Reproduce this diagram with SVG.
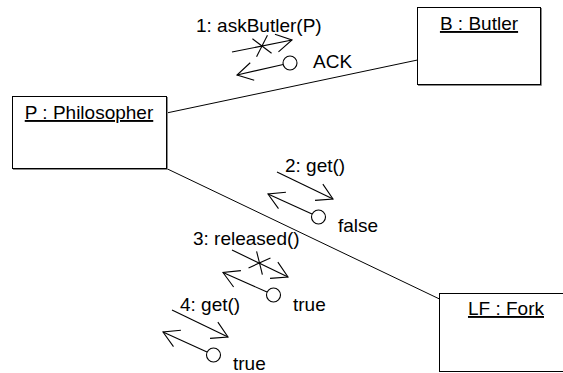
<svg xmlns="http://www.w3.org/2000/svg" width="563" height="373" viewBox="0 0 563 373">
  <style>
    text { font-family: "Liberation Sans", Arial, sans-serif; font-size: 19px; fill: #000; }
    .name { text-anchor: middle; text-decoration: underline; }
    .box { fill: #fff; stroke: #000; stroke-width: 1; }
    .shade { fill: none; stroke: #8a8a8a; stroke-width: 1; }
    .link { fill: none; stroke: #000; stroke-width: 1; }
    .msg { fill: none; stroke: #000; stroke-width: 1.1; marker-end: url(#open); }
    .ret { fill: #fff; stroke: #000; stroke-width: 1.1; }
    .cross { stroke: #000; stroke-width: 1.1; }
  </style>
  <defs>
    <!-- open V arrowhead for message arrows -->
    <marker id="open" markerUnits="userSpaceOnUse" viewBox="-20 -11 22 22" refX="0" refY="0"
            markerWidth="22" markerHeight="22" orient="auto" overflow="visible">
      <path d="M-15.6,-9 L0,0 L-15.6,9" fill="none" stroke="#000" stroke-width="1.1"/>
    </marker>
    <!-- cross drawn over an arrow shaft, in the shaft's own frame -->
    <g id="x">
      <line class="cross" x1="-7.7" y1="-9.2" x2="7.7" y2="9.2"/>
      <line class="cross" x1="-7.7" y1="9.2" x2="7.7" y2="-9.2"/>
    </g>
  </defs>

  <rect width="563" height="373" fill="#fff"/>

  <!-- links between the objects -->
  <g id="connectors">
    <line class="link" x1="166.5" y1="113" x2="417.5" y2="60"/>
    <line class="link" x1="166.5" y1="168.5" x2="439.5" y2="299"/>
  </g>

  <g id="philosopher">
    <rect class="box" x="12.5" y="96.5" width="154" height="72"/>
    <path class="shade" d="M167.5,97 V169.5 H13"/>
    <text class="name" x="89" y="119">P : Philosopher</text>
  </g>

  <g id="butler">
    <rect class="box" x="417.5" y="7.5" width="123" height="77"/>
    <path class="shade" d="M541.5,8 V85.5 H418"/>
    <text class="name" x="479" y="30">B : Butler</text>
  </g>

  <g id="fork">
    <rect class="box" x="439.5" y="293.5" width="133" height="78"/>
    <text class="name" x="506" y="315">LF : Fork</text>
  </g>

  <!-- messages along the links -->
  <g id="messages">
    <g id="msg1">
      <text x="196" y="32">1: askButler(P)</text>
      <line class="msg" x1="232" y1="52" x2="292" y2="40"/>
      <use href="#x" transform="translate(262,46) rotate(-13)"/>
      <line class="msg" x1="283.2" y1="64.5" x2="237" y2="75"/>
      <circle class="ret" cx="290" cy="63" r="7"/>
      <text x="313" y="68">ACK</text>
    </g>
    <g id="msg2">
      <text x="285" y="172">2: get()</text>
      <line class="msg" x1="277" y1="172" x2="333" y2="199"/>
      <line class="msg" x1="312" y1="214" x2="268" y2="194"/>
      <circle class="ret" cx="318.5" cy="217" r="7"/>
      <text x="338" y="232">false</text>
    </g>
    <g id="msg3">
      <text x="193" y="245">3: released()</text>
      <line class="msg" x1="232" y1="250" x2="288" y2="277"/>
      <use href="#x" transform="translate(259.5,263) rotate(26)"/>
      <line class="msg" x1="267" y1="292" x2="223" y2="272.5"/>
      <circle class="ret" cx="273.5" cy="295" r="7"/>
      <text x="293" y="311">true</text>
    </g>
    <g id="msg4">
      <text x="180" y="310.5">4: get()</text>
      <line class="msg" x1="172" y1="310" x2="228" y2="337"/>
      <line class="msg" x1="207" y1="352" x2="163" y2="332"/>
      <circle class="ret" cx="213.5" cy="355" r="7"/>
      <text x="233" y="370">true</text>
    </g>
  </g>
</svg>
